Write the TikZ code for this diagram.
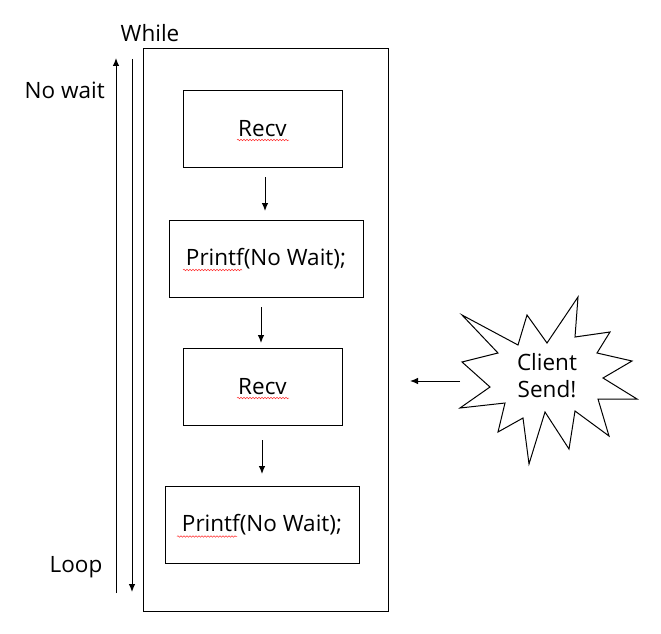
\documentclass[tikz,border=0pt]{standalone}
\usepackage{fontspec}
\setmainfont{Open Sans}
\usetikzlibrary{calc,arrows.meta,decorations.pathmorphing}

\begin{document}
\begin{tikzpicture}[x=1pt,y=-1pt,font=\fontsize{22.5}{27}\selectfont,line width=1pt]
\useasboundingbox (0,0) rectangle (661,634);

% This determines how the boxes and arrows will look.
\tikzstyle{stepbox}=[draw,outer sep=0pt,minimum height=77pt]
\tikzstyle{flow}=[-{Latex[length=8pt,width=6.5pt]}]
\tikzstyle{typo}=[red!80!white,line width=0.5pt,decorate,decoration={snake,segment length=3pt,amplitude=0.8pt}]

% This draws the while loop.
\node[draw,outer sep=0pt,minimum width=245pt,minimum height=562pt] (loop) at (265.5,330) {};

% This draws the steps inside the loop.
\node[stepbox,minimum width=159pt] (recvA) at (262.5,128.5) {Recv};
\node[stepbox,minimum width=194pt] (printA) at (266,258.5) {Printf(No Wait);};
\node[stepbox,minimum width=159pt] (recvB) at (262.5,386.5) {Recv};
\node[stepbox,minimum width=194pt] (printB) at (262,524.5) {Printf(No Wait);};

% This draws the arrows between the steps.
\draw[flow,shorten <=10pt,shorten >=9pt] ($(recvA.south)+(2.5,0)$) -- ($(printA.north)+(-1,0)$);
\draw[flow,shorten <=10pt,shorten >=5pt] ($(printA.south)+(-5,0)$) -- ($(recvB.north)+(-1.5,0)$);
\draw[flow,shorten <=15pt,shorten >=12pt] ($(recvB.south)+(-0.5,0)$) -- (printB.north);

% This draws the spelling marks.
\draw[typo] ($(recvA)+(-25.5,11.5)$) -- ++(52,0);
\draw[typo] ($(printA)+(-83,11.5)$) -- ++(59,0);
\draw[typo] ($(recvB)+(-25.5,11.5)$) -- ++(52,0);
\draw[typo] ($(printB)+(-85,12)$) -- ++(60,0);

% This draws the loop labels and arrows.
\node[anchor=base] (whileText) at (150,41.7) {While};
\node[anchor=base] (nowaitText) at (64.7,98.3) {No wait};
\node[anchor=base] (loopText) at (76,572.7) {Loop};

\coordinate (waitS) at ($(loop.south west)+(-27,-18)$);
\coordinate (waitE) at ($(loop.north west)+(-27,9)$);
\draw[flow] (waitS) -- (waitE);
\coordinate (loopS) at ($(loop.north west)+(-11,10)$);
\coordinate (loopE) at ($(loop.south west)+(-11,-19)$);
\draw[flow] (loopS) -- (loopE);

% This draws the client burst.
\coordinate (burst) at (547,381);
\draw[shift={(burst)}] (-85,-66) -- (-29,-36) -- (-20,-66) -- (0,-38) -- (31,-84)
  -- (28,-44) -- (63,-49) -- (50,-28) -- (85,-20) -- (56,-3) -- (90,18)
  -- (51,18) -- (62,55) -- (28,30) -- (22,68) -- (-2,31) -- (-18,83)
  -- (-24,37) -- (-49,51) -- (-42,22) -- (-87,27) -- (-57,6) -- (-85,-19)
  -- (-49,-28) -- cycle;
\node[align=center] (client) at ($(burst)+(0,-5)$) {Client\\Send!};

\coordinate (burstW) at ($(burst)+(-87,0)$);
\draw[flow] (burstW) -- ($(loop.east |- burst)+(22,0)$);
\end{tikzpicture}
\end{document}
